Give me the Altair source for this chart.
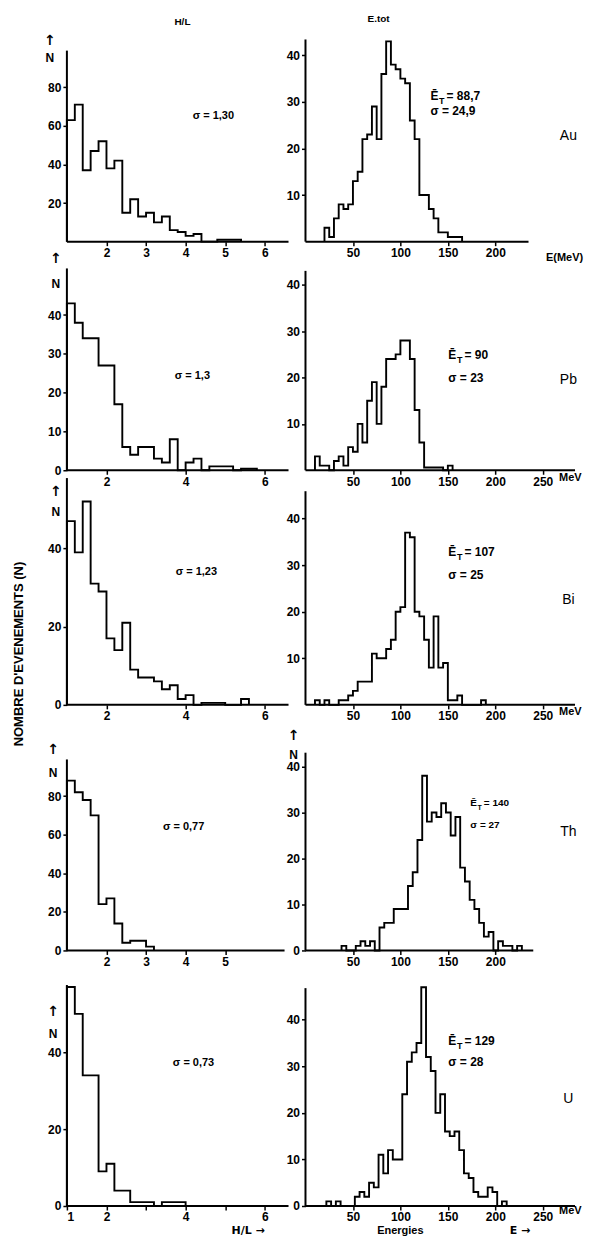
import altair as alt
import pandas as pd

FONT = "Liberation Sans"

# H/L histograms, bins of 0.2 from H/L = 1
HL_START = 1.0
HL_BIN = 0.2
AU_HL = [63, 71, 37, 47, 52, 38, 42, 15, 22, 13, 15, 10, 13, 6, 5, 3, 4, 0, 0, 1, 1, 1]
PB_HL = [43, 38, 34, 34, 27, 27, 17, 6, 4, 6, 6, 3, 2, 8, 0, 2, 3, 0, 1, 1, 1, 0, 0.4, 0.4]
BI_HL = [47, 39, 52, 31, 29, 17, 14, 21, 9, 7, 7, 6, 4, 5, 1.5, 2.5, 0, 0.5, 0.5, 0.5, 0, 0, 1.5]
TH_HL = [88, 82, 78, 70, 24, 27, 14, 4, 5, 5, 2]
U_HL = [57, 50, 34, 34, 9, 11, 4, 4, 1, 1, 1, 0, 1, 1, 1]

# total energy histograms (MeV), bins of 5 MeV
E_BIN = 5
AU_E_START = 20
AU_E = [3, 1, 5, 8, 7, 8, 13, 15, 22, 23, 29, 22, 36, 43, 38, 37, 35, 34, 26, 22,
        10, 10, 7, 5, 2, 2, 1, 1, 1]
PB_E_START = 10
PB_E = [3, 1, 1, 0, 2, 3, 1, 5, 4, 10, 6, 15, 19, 10, 18, 24, 24, 25, 28, 28,
        24, 13, 6, 0.6, 0.6, 0.6, 0.6, 0, 1]
BI_E_START = 10
BI_E = [1, 0, 1, 0, 0, 1, 1, 2, 3, 5, 5, 5, 11, 10, 10, 12, 14, 20, 21, 37,
        36, 20, 19, 14, 8, 19, 8, 9, 1, 1, 2, 0, 0, 0, 0, 1]
TH_E_START = 38
TH_E = [1, 0, 0, 1, 2, 1, 2, 0, 5, 6, 6, 9, 9, 9, 14, 17, 24, 38, 28, 30,
        29, 32, 30, 25, 29, 18, 15, 11, 9, 6, 3, 4, 0, 2, 1, 1, 0, 1]
U_E_START = 22
U_E = [1, 0, 1, 0, 0, 0, 2, 3, 2, 5, 4, 11, 7, 12, 10, 10, 24, 31, 33, 35,
       47, 32, 29, 20, 24, 16, 15, 16, 12, 7, 6, 3, 2, 2, 4, 3, 0, 1]

ELEMENTS = ["Au", "Pb", "Bi", "Th", "U"]
SIGMA_HL = ["σ = 1,30", "σ = 1,3", "σ = 1,23", "σ = 0,77", "σ = 0,73"]
MEAN_E = ["88,7", "90", "107", "140", "129"]
SIGMA_E = ["σ = 24,9", "σ = 23", "σ = 25", "σ = 27", "σ = 28"]

HL_DOM = [1, 6.6]
E_DOM = [0, 284]
LEFT_W = 222
RIGHT_W = 270


def steps(start, width, counts):
    xs = [start] + [start + i * width for i in range(len(counts))] + [start + len(counts) * width]
    ys = [0] + list(counts) + [0]
    return pd.DataFrame({"x": xs, "y": ys})


def txt(x, y, text, size=11, align="center", angle=0, dx=0, dy=0, weight="bold", font=FONT):
    d = pd.DataFrame({"x": [x], "y": [y], "t": [text]})
    return alt.Chart(d).mark_text(
        fontSize=size, align=align, angle=angle, dx=dx, dy=dy, fontWeight=weight,
        font=font, color="black"
    ).encode(x="x:Q", y="y:Q", text="t:N")


def panel(df, xdom, ymax, w, h, xticks, yticks, x_end, y_top, texts, label_expr=None):
    xs = alt.Scale(domain=xdom, nice=False, zero=False)
    ys = alt.Scale(domain=[0, ymax], nice=False, zero=False)
    ax_common = dict(title=None, domain=False, grid=False, tickColor="black", tickWidth=1.5,
                     tickSize=4, labelFont=FONT, labelFontSize=12, labelFontWeight="bold",
                     labelColor="black", labelPadding=2, format="d")
    if label_expr:
        xax = alt.Axis(values=xticks, labelExpr=label_expr, **ax_common)
    else:
        xax = alt.Axis(values=xticks, **ax_common)
    yax = alt.Axis(values=yticks, **ax_common)

    hist = alt.Chart(df).mark_line(
        interpolate="step-after", color="black", strokeWidth=1.9
    ).encode(x=alt.X("x:Q", scale=xs, axis=xax), y=alt.Y("y:Q", scale=ys, axis=yax))

    yline = alt.Chart(pd.DataFrame({"x": [xdom[0]], "y": [0], "y2": [y_top]})).mark_rule(
        color="black", strokeWidth=2
    ).encode(x=alt.X("x:Q", scale=xs, axis=xax), y=alt.Y("y:Q", scale=ys, axis=yax), y2="y2:Q")

    xline = alt.Chart(pd.DataFrame({"x": [xdom[0]], "x2": [x_end], "y": [0]})).mark_rule(
        color="black", strokeWidth=2
    ).encode(x=alt.X("x:Q", scale=xs, axis=xax), x2="x2:Q", y=alt.Y("y:Q", scale=ys, axis=yax))

    return alt.layer(hist, yline, xline, *texts).properties(width=w, height=h)


def mean_label(x, y, value, size=12):
    return [
        txt(x, y, "E\u0304", size=size, align="left"),
        txt(x, y, "T", size=size - 3, align="left", dx=size * 0.72, dy=5),
        txt(x, y, "= " + value, size=size, align="left", dx=size * 1.35),
    ]


def anchor(x):
    # invisible rule fixing the left edge of the drawing
    return alt.Chart(pd.DataFrame({"x": [x], "y": [40], "y2": [60]})).mark_rule(
        strokeOpacity=0, strokeWidth=0.01
    ).encode(x="x:Q", y="y:Q", y2="y2:Q")


# row heights in px and the y domains matching the original scales
row_h = [231, 229, 235, 246, 256]
left_ymax = [119.5, 58.9, 60.0, 127.3, 66.5]
right_ymax = [49.5, 49.3, 50.4, 53.4, 54.9]
left_ytop = [99, 52, 58, 99, 57.5]
right_ytop = [43.4, 43, 45.9, 43, 46.8]
left_yticks = [[20, 40, 60, 80], [0, 10, 20, 30, 40], [0, 20, 40], [0, 20, 40, 60, 80], [0, 20, 40]]
right_yticks = [[10, 20, 30, 40], [10, 20, 30, 40], [10, 20, 30, 40], [0, 10, 20, 30, 40], [0, 10, 20, 30, 40]]
left_xticks = [[2, 3, 4, 5, 6], [2, 4, 6], [2, 4, 6], [2, 3, 4, 5], [1, 2, 3, 4, 5, 6]]
right_xticks = [[50, 100, 150, 200], [50, 100, 150, 200, 250], [50, 100, 150, 200, 250],
                [50, 100, 150, 200], [50, 100, 150, 200, 250]]
right_xend = [235, 284, 284, 240, 284]
left_xend = [6.6, 6.6, 6.6, 6.5, 6.6]

hl_data = [AU_HL, PB_HL, BI_HL, TH_HL, U_HL]
e_data = [(AU_E_START, AU_E), (PB_E_START, PB_E), (BI_E_START, BI_E), (TH_E_START, TH_E), (U_E_START, U_E)]

# annotation anchors (data units of each panel)
sigma_hl_pos = [(4.7, 65), (4.17, 24.4), (4.27, 34), (3.95, 64), (4.2, 37.1)]
n_pos = [(0.57, 95, 104), (0.72, 48, 54.5), (0.72, 49.3, 54.4), (0.65, 92, 104), (0.65, 44.7, 50.6)]
mean_pos = [(131.6, 31.3, 28), (150.5, 24.8, 20), (150.5, 32.8, 28), (173.7, 32.1, 27.3), (150.5, 35.4, 31)]
elem_pos = [22.7, 19.4, 22.5, 25.8, 23]

panels = []
for i in range(5):
    lt = [
        txt(sigma_hl_pos[i][0], sigma_hl_pos[i][1], SIGMA_HL[i]),
        txt(n_pos[i][0], n_pos[i][1], "N", size=12),
        txt(n_pos[i][0], n_pos[i][2], "↑", size=14, font="DejaVu Sans"),
    ]
    rt = mean_label(mean_pos[i][0], mean_pos[i][1], MEAN_E[i], size=10 if i == 3 else 12)
    rt += [
        txt(mean_pos[i][0], mean_pos[i][2], SIGMA_E[i], align="left", size=10 if i == 3 else 12),
        txt(277, elem_pos[i], ELEMENTS[i], size=14, weight="normal"),
    ]
    if i == 0:
        lt.append(txt(3.92, 114, "H/L", size=10))
        lt.append(anchor(1 - 58 / 39.64))
        rt.append(txt(77, 47.8, "E.tot", size=10))
        rt.append(txt(273, -3.6, "E(MeV)", size=11))
    if i in (1, 2):
        rt.append(txt(279, -1.6, "MeV", size=11))
    if i == 2:
        lt.append(txt(-0.21, 13.0, "NOMBRE   D'EVENEMENTS  (N)", size=13, angle=270))
    if i == 3:
        rt.append(txt(-12.6, 42.5, "N", size=12))
        rt.append(txt(-12.6, 46.6, "↑", size=14, font="DejaVu Sans"))
    if i == 4:
        rt.append(txt(279, -1.0, "MeV", size=11))
        lt.append(txt(5.58, -6.5, "H/L  →", size=11, font="DejaVu Sans"))
        rt.append(txt(100, -5.4, "Energies", size=11))
        rt.append(txt(226, -5.4, "E  →", size=11, font="DejaVu Sans"))

    lx = "(datum.value == 3 || datum.value == 5) ? '' : datum.label" if i == 4 else None
    panels.append(panel(steps(HL_START, HL_BIN, hl_data[i]), HL_DOM, left_ymax[i], LEFT_W, row_h[i],
                        left_xticks[i], left_yticks[i], left_xend[i], left_ytop[i], lt, label_expr=lx))
    start, counts = e_data[i]
    panels.append(panel(steps(start, E_BIN, counts), E_DOM, right_ymax[i], RIGHT_W, row_h[i],
                        right_xticks[i], right_yticks[i], right_xend[i], right_ytop[i], rt))

chart = alt.concat(*panels, columns=2, spacing={"row": 0, "column": 17}, bounds="flush").properties(
    padding={"left": 0, "top": 2, "right": 4, "bottom": 2},
).configure_view(stroke=None)

chart.save("out.html", embed_options={"renderer": "svg", "actions": False})
